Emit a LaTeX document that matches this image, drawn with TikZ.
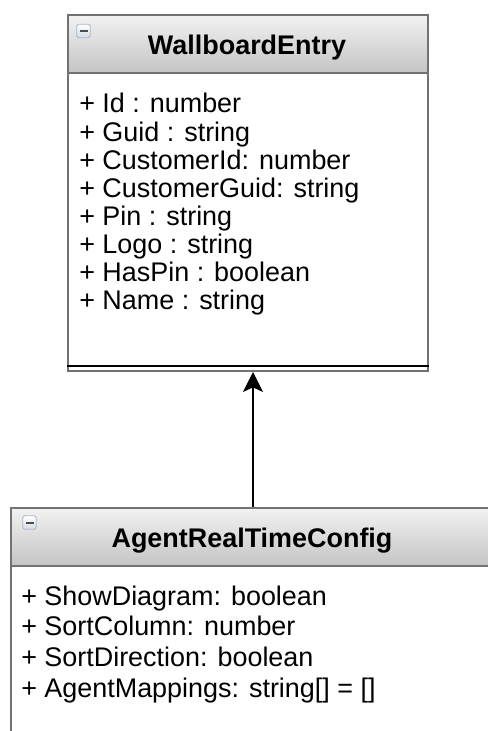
\documentclass[tikz,border=0pt]{standalone}
\usepackage{fontspec}
\setmainfont{Liberation Sans}
\usetikzlibrary{arrows.meta}

\definecolor{boxgray}{HTML}{727272}
\definecolor{headtop}{HTML}{F2F2F2}
\definecolor{headbot}{HTML}{C4C4C4}
\definecolor{iconedge}{HTML}{A8B6C8}
\definecolor{iconbot}{HTML}{D6DBE2}

\tikzset{
  classbox/.style={draw=boxgray, line width=1.5pt, fill=white, inner sep=0pt, anchor=north west},
  classhead/.style={draw=boxgray, line width=1.5pt, top color=headtop, bottom color=headbot, inner sep=0pt, anchor=north west},
  foldicon/.style={draw=iconedge, line width=0.6pt, rounded corners=1.2pt, top color=white, bottom color=iconbot, minimum size=10pt, inner sep=0pt},
  attr/.style={anchor=base west, inner sep=0pt, font=\fontsize{20.2}{24}\selectfont},
  classname/.style={anchor=base, inner sep=0pt, font=\fontsize{20.2}{24}\selectfont\bfseries},
}

\begin{document}
\begin{tikzpicture}[x=0.75pt, y=-0.75pt, >={Stealth[length=15pt, width=15pt, inset=3.5pt]}]
            \path[use as bounding box, clip] (0,0) rectangle (488,731);

            % 类 WallboardEntry
            \node[classbox, minimum width=270pt, minimum height=267pt] (entry) at (67,14) {};
            \node[classhead, minimum width=270pt, minimum height=43.5pt] (entryhead) at (67,14) {};
            \node[classname] (entryname) at (247,54.5) {WallboardEntry};
            \node[foldicon] (entryicon) at (83.5,31) {};
            \draw[line width=1.5pt, black!70] ([xshift=-3pt]entryicon.center) -- ([xshift=3pt]entryicon.center);
            \foreach \t [count=\i] in {{+ Id : number}, {+ Guid : string}, {+ CustomerId: number}, {+ CustomerGuid: string},
                                       {+ Pin : string}, {+ Logo : string}, {+ HasPin : boolean}, {+ Name : string}}
                \node[attr] (entryattr\i) at (79, 113+28.1*\i-28.1) {\t};
            \draw[line width=1.1pt] ([yshift=4.5pt]entry.south west) -- ([yshift=4.5pt]entry.south east);

            % 类 AgentRealTimeConfig
            \node[classbox, minimum width=363pt, minimum height=195pt] (config) at (10,507) {};
            \node[classhead, minimum width=363pt, minimum height=43.5pt] (confighead) at (10,507) {};
            \node[classname] (configname) at (252,547) {AgentRealTimeConfig};
            \node[foldicon] (configicon) at (29.5,522.5) {};
            \draw[line width=1.5pt, black!70] ([xshift=-3pt]configicon.center) -- ([xshift=3pt]configicon.center);
            \foreach \t [count=\i] in {{+ ShowDiagram: boolean}, {+ SortColumn: number}, {+ SortDirection: boolean}, {+ AgentMappings: string[] = []}}
                \node[attr] (configattr\i) at (21, 605+30.7*\i-30.7) {\t};

            % 继承
            \draw[->, line width=1.1pt] (config.north) -- (config.north |- entry.south);
        \end{tikzpicture}
\end{document}
